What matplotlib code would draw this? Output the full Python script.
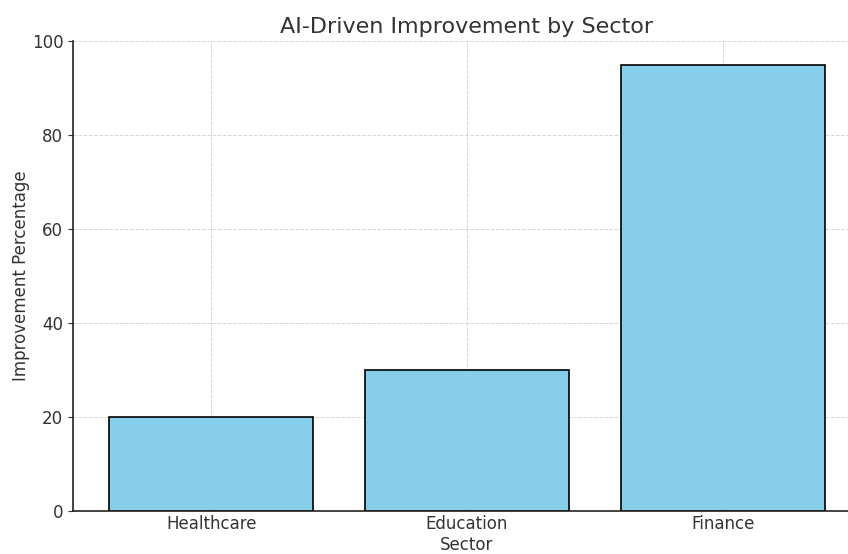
import matplotlib
matplotlib.use('Agg')
import matplotlib.pyplot as plt

# --- data ---
sectors = ["Healthcare", "Education", "Finance"]
improvement = [20, 30, 95]

text_color = "#333333"
plt.rcParams['font.family'] = ['DejaVu Sans']

fig = plt.figure(figsize=(8.48, 5.54), dpi=100)
# right edge runs past the canvas, like the reference crop
ax = fig.add_axes([73 / 848, 43 / 554, 788 / 848, 470 / 554])

ax.bar(sectors, improvement, width=0.8, color="skyblue", edgecolor="black", linewidth=1.2, zorder=2)
ax.grid(True, linestyle="--", color="#cccccc", linewidth=0.7, alpha=0.8, zorder=3)
ax.set_ylim(0, 100)

ax.set_title("AI-Driven Improvement by Sector", fontsize=16, color=text_color, pad=6)
ax.set_xlabel("Sector", fontsize=12, color=text_color, labelpad=2)
ax.set_ylabel("Improvement Percentage", fontsize=12, color=text_color, labelpad=1)

for side in ("top", "right"):
    ax.spines[side].set_visible(False)
for side in ("left", "bottom"):
    ax.spines[side].set_color("#222222")
    ax.spines[side].set_linewidth(1.2)

ax.tick_params(axis="x", direction="in", labelsize=12, colors=text_color, pad=3)
ax.tick_params(axis="y", direction="out", labelsize=12, colors=text_color)

plt.savefig("out.png", dpi=100)
plt.close()
